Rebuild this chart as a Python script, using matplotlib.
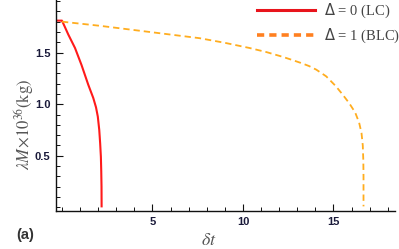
import matplotlib
matplotlib.use("Agg")
import matplotlib.pyplot as plt
from matplotlib.lines import Line2D
from matplotlib.ticker import MultipleLocator

# values
lc_dt = [-0.3, 0.0, 0.17, 0.35, 0.72, 1.08, 1.45, 1.73, 1.88, 1.98, 2.06,
         2.11, 2.15, 2.17, 2.185, 2.19]
lc_mass = [1.81, 1.81, 1.745, 1.675, 1.545, 1.38, 1.19, 1.06, 0.97, 0.88, 0.75,
           0.62, 0.49, 0.35, 0.2, 0.01]

blc_dt = [0.0, 2.09, 4.85, 7.6, 9.0, 10.36, 11.3, 12.18, 12.7, 13.2, 13.65, 14.05,
          14.6, 15.13, 15.5, 15.87, 16.2, 16.42, 16.55, 16.62, 16.65, 16.66, 16.66]
blc_mass = [1.80, 1.76, 1.70, 1.64, 1.595, 1.545, 1.505, 1.46, 1.43, 1.40, 1.37, 1.335,
            1.27, 1.175, 1.095, 1.01, 0.92, 0.82, 0.72, 0.6, 0.45, 0.3, 0.01]

labels = [r"$\Delta$ = 0 (LC)", r"$\Delta$ = 1 (BLC)"]

fig = plt.figure(figsize=(3.99, 2.49), dpi=100)
ax = fig.add_axes([56 / 399, 1 - 211 / 249, 339 / 399, 211 / 249])

ax.plot(lc_dt, lc_mass, color="#ff1a1a", lw=1.5)
ax.plot(blc_dt, blc_mass, color="#ffad1f", lw=1.3, dashes=(3.5, 2.2))

ax.set_xlim(-0.33, 18.4)
ax.set_ylim(-0.035, 2.01)

for s in ["top", "right"]:
    ax.spines[s].set_visible(False)
for s in ["left", "bottom"]:
    ax.spines[s].set_linewidth(1.0)
    ax.spines[s].set_color("#111111")

ax.xaxis.set_major_locator(MultipleLocator(5))
ax.xaxis.set_minor_locator(MultipleLocator(1))
ax.yaxis.set_major_locator(MultipleLocator(0.5))
ax.yaxis.set_minor_locator(MultipleLocator(0.1))
ax.set_xticks([5, 10, 15])
ax.set_yticks([0.5, 1.0, 1.5])
ax.set_xticklabels(["5", "10", "15"])
ax.set_yticklabels(["0.5", "1.0", "1.5"])
ax.tick_params(which="major", direction="in", length=5, width=0.8, colors="#111111",
               labelsize=8, pad=4)
ax.tick_params(which="minor", direction="in", length=2.8, width=0.7, colors="#111111")
for t in ax.get_xticklabels() + ax.get_yticklabels():
    t.set_fontweight("bold")
    t.set_color("#1a1a3a")
    t.set_family("Liberation Sans")

fig.text(209 / 399, 1 - 240 / 249, r"$\delta t$", ha="center", va="center",
         fontsize=13, color="#555555", math_fontfamily="stix")
fig.text(24 / 399, 1 - 124 / 249, r"$\lambda M\!\times\!10^{36}(\mathrm{kg})$",
         rotation=90, ha="center", va="center", fontsize=12, color="#555555",
         math_fontfamily="stix")
fig.text(25 / 399, 1 - 235 / 249, "(a)", ha="center", va="center", fontsize=10.5,
         fontweight="bold", color="#333333", family="Liberation Sans")

handles = [Line2D([], [], color="#e8141c", lw=2.2),
           Line2D([], [], color="#ff8020", lw=2.6, dashes=(2.0, 1.4))]
leg = fig.legend(handles, labels, loc="upper left", bbox_to_anchor=(244 / 399, 1.045),
                 frameon=False, handlelength=4.0, handletextpad=0.6,
                 labelspacing=0.45, prop={"family": "Liberation Serif", "size": 10.5})
for t in leg.get_texts():
    t.set_color("#444444")

fig.savefig("out.png", dpi=100)
